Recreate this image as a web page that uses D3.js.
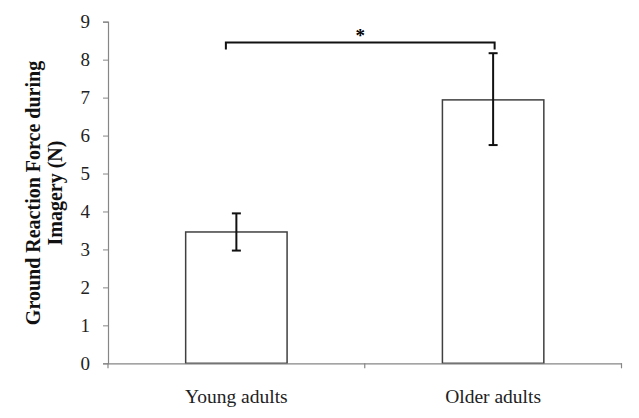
<!DOCTYPE html>
<html><head><meta charset="utf-8">
<script src="https://cdn.jsdelivr.net/npm/d3@7"></script>
<style>body{margin:0;background:#fff}svg{display:block}</style>
</head><body>
<svg id="c" width="639" height="418"></svg>
<script>
const categories = ["Young adults", "Older adults"];
const means = [3.46, 6.94];
const errLow = [2.97, 5.75];
const errHigh = [3.95, 8.17];
const yTicks = [0,1,2,3,4,5,6,7,8,9];
const sigLevel = 8.45;
const sigLabel = "*";

const svg = d3.select("#c");
const m = {left:108, right:17.5, top:21.7, bottom:54.7};
const W = 639, H = 418;
const x = d3.scaleBand().domain(categories).range([m.left, W - m.right]).paddingInner(0).paddingOuter(0);
const y = d3.scaleLinear().domain([0,9]).range([H - m.bottom, m.top]);
const font = "'Liberation Serif','Times New Roman',serif";

const bw = x.bandwidth() * 0.395;
// bars
svg.selectAll("rect.bar").data(categories).join("rect")
  .attr("x", d => x(d) + x.bandwidth()/2 - bw/2)
  .attr("y", (d,i) => y(means[i]))
  .attr("width", bw)
  .attr("height", (d,i) => y(0) - y(means[i]))
  .attr("fill", "#fff").attr("stroke", "#404040").attr("stroke-width", 1.5);

// axes
const ya = svg.append("g").attr("transform", `translate(${m.left},0)`)
  .call(d3.axisLeft(y).tickValues(yTicks).tickSize(5).tickPadding(13).tickFormat(d3.format("d")));
ya.select(".domain").attr("stroke", "#868686").attr("stroke-width", 1.2);
ya.selectAll(".tick line").attr("stroke", "#868686");
ya.selectAll("text").attr("font-family", font).attr("font-size", 19).attr("fill", "#222");

const xa = svg.append("g").attr("transform", `translate(0,${y(0)})`)
  .call(d3.axisBottom(x).tickSize(0).tickPadding(0).tickFormat(""));
xa.select(".domain").attr("stroke", "#868686").attr("stroke-width", 1.2);
// category boundary ticks
const bounds = [m.left, x(categories[1]), W - m.right];
svg.selectAll("line.bt").data(bounds).join("line")
  .attr("x1", d => d).attr("x2", d => d)
  .attr("y1", y(0)).attr("y2", y(0) + 5)
  .attr("stroke", "#868686").attr("stroke-width", 1.2);
svg.selectAll("text.cat").data(categories).join("text")
  .attr("x", d => x(d) + x.bandwidth()/2).attr("y", y(0) + 40)
  .attr("text-anchor", "middle").attr("font-family", font).attr("font-size", 19.5).attr("fill", "#222")
  .text(d => d);

// error bars
const cap = 4.5;
categories.forEach((c,i) => {
  const cx = x(c) + x.bandwidth()/2;
  const g = svg.append("g").attr("stroke", "#111").attr("stroke-width", 2);
  g.append("line").attr("x1", cx).attr("x2", cx).attr("y1", y(errLow[i])).attr("y2", y(errHigh[i]));
  g.append("line").attr("x1", cx-cap).attr("x2", cx+cap).attr("y1", y(errLow[i])).attr("y2", y(errLow[i]));
  g.append("line").attr("x1", cx-cap).attr("x2", cx+cap).attr("y1", y(errHigh[i])).attr("y2", y(errHigh[i]));
});

// significance bracket
const bx1 = x(categories[0]) + x.bandwidth()/2 - 10.5;
const bx2 = x(categories[1]) + x.bandwidth()/2 + 1.5;
const by = y(sigLevel);
svg.append("path")
  .attr("d", `M${bx1},${by+7}V${by}H${bx2}V${by+7}`)
  .attr("fill", "none").attr("stroke", "#111").attr("stroke-width", 2);
svg.append("text").attr("x", (bx1+bx2)/2).attr("y", by - 1)
  .attr("text-anchor", "middle").attr("font-family", font).attr("font-size", 19).attr("font-weight", "bold")
  .text(sigLabel);

// y label
const yl = svg.append("text").attr("transform", "translate(0,193) rotate(-90)")
  .attr("text-anchor", "middle").attr("font-family", font).attr("font-size", 20).attr("font-weight", "bold").attr("fill", "#111");
yl.append("tspan").attr("x", 0).attr("y", 40).text("Ground Reaction Force during");
yl.append("tspan").attr("x", 0).attr("y", 62).text("Imagery (N)");
</script>
</body></html>
